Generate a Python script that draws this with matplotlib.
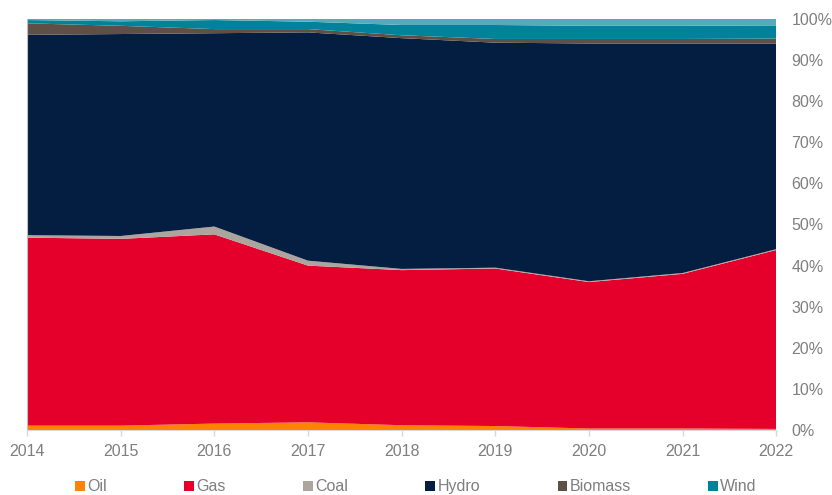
import matplotlib.pyplot as plt
from matplotlib.patches import Patch
from matplotlib.ticker import PercentFormatter

plt.rcParams['font.family'] = ['Liberation Sans', 'DejaVu Sans']

# share of generation, percent
years = [2014, 2015, 2016, 2017, 2018, 2019, 2020, 2021, 2022]
oil = [1.1, 1.1, 1.6, 1.9, 1.2, 1.0, 0.4, 0.4, 0.3]
gas = [45.7, 45.4, 46.0, 38.1, 37.7, 38.3, 35.6, 37.6, 43.5]
coal = [0.6, 0.7, 1.9, 1.2, 0.3, 0.2, 0.2, 0.2, 0.2]
hydro = [48.7, 49.1, 47.0, 55.5, 56.1, 54.7, 57.8, 55.8, 50.0]
biomass = [2.8, 2.0, 1.0, 0.8, 0.7, 0.9, 1.1, 1.1, 1.2]
wind = [0.8, 1.1, 2.2, 1.8, 2.5, 3.4, 3.2, 3.2, 3.2]
other = [0.3, 0.6, 0.3, 0.7, 1.5, 1.5, 1.7, 1.7, 1.6]

labels = ['Oil', 'Gas', 'Coal', 'Hydro', 'Biomass', 'Wind']
colors = ['#FF8200', '#E4002B', '#ACA59E', '#041E42', '#5E5047', '#00839A', '#55AABB']

fig = plt.figure(figsize=(8.32, 4.95), dpi=100)
ax = fig.add_axes([0.0325, 0.131, 0.9005, 0.831])

ax.stackplot(years, oil, gas, coal, hydro, biomass, wind, other,
             colors=colors, linewidth=0)

ax.set_xlim(2014, 2022)
ax.set_ylim(0, 100)
ax.set_xticks(years)
ax.set_yticks(range(0, 101, 10))
ax.yaxis.set_major_formatter(PercentFormatter(decimals=0))
ax.yaxis.tick_right()

ax.tick_params(axis='y', length=0, pad=11, labelsize=11.5, labelcolor='#7F7F7F')
ax.tick_params(axis='x', length=4, width=1, color='#D9D9D9', pad=6,
               labelsize=11.5, labelcolor='#7F7F7F')

for s in ['top', 'right']:
    ax.spines[s].set_visible(False)
ax.spines['bottom'].set_color('#D9D9D9')
ax.spines['left'].set_color('#BFBFBF')

handles = [Patch(facecolor=c, edgecolor='none') for c in colors[:6]]
fig.legend(handles, labels, loc='lower center', ncol=6, frameon=False,
           bbox_to_anchor=(0.5, -0.028), handlelength=0.6, handleheight=0.6,
           handletextpad=0.15, columnspacing=4.85, fontsize=11.5,
           labelcolor='#7F7F7F')

fig.savefig('out.png', dpi=100)
